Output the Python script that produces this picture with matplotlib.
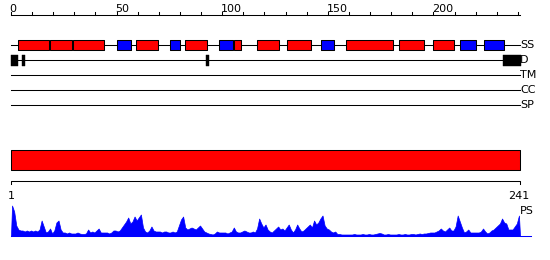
import numpy as np
from matplotlib import pyplot as plt

seq_len = 241

# secondary structure segments (start, end) in residue units
helix = [(3.5, 17.8), (18.6, 28.7), (29.5, 43.9), (59.3, 69.8), (82.5, 92.7),
         (105.7, 108.8), (116.6, 126.9), (130.8, 141.9), (158.8, 181.0),
         (183.9, 195.7), (200.0, 209.9)]
strand = [(50.3, 56.7), (75.4, 79.9), (98.6, 105.0), (146.8, 152.8),
          (212.6, 220.0), (224.1, 233.3)]
disorder = [(0.0, 3.5), (5.2, 6.5), (92.2, 93.8), (233.1, 241.5)]

track_names = ['SS', 'D', 'TM', 'CC', 'SP']
ruler_major = [0, 50, 100, 150, 200]
ruler_minor = list(range(0, 241, 10))

ps_profile = [
    30, 24, 10, 6, 5, 5, 4, 5, 4, 5,
    4, 5, 4, 6, 15, 9, 3, 4, 7, 2,
    5, 13, 15, 6, 3, 3, 2, 3, 2, 2,
    2, 3, 2, 1.5, 1.5, 2, 6, 3, 4, 3,
    5, 7, 3, 3, 3, 3, 2, 3, 5, 5,
    4, 5, 8, 11, 14, 18, 12, 14, 19, 15,
    18, 21, 8, 4, 3, 5, 9, 5, 4, 4,
    4, 3, 4, 4, 3, 3, 4, 3, 4, 10,
    16, 19, 8, 6, 7, 8, 7, 6, 8, 10,
    7, 4, 3, 2, 1.5, 1, 2, 4, 3, 3,
    3, 3, 2, 3, 4, 8, 4, 3, 3, 4,
    5, 4, 3, 3, 4, 3, 7, 17, 12, 8,
    11, 6, 4, 3, 5, 7, 9, 6, 7, 5,
    8, 11, 6, 3, 6, 11, 7, 4, 5, 7,
    9, 11, 8, 15, 11, 13, 17, 20, 10, 7,
    6, 4, 3, 4, 1.5, 1.5, 1, 1, 1, 1,
    1, 1, 1.5, 1, 1, 1, 1.5, 1, 1, 1.5,
    1, 1, 1.5, 2, 2.5, 2, 1, 1, 1.5, 1,
    1, 1, 1, 1.5, 1, 1, 1.5, 1, 1, 1.5,
    1.5, 1, 1.5, 2, 1.5, 2, 2, 2.5, 3, 3,
    3, 4, 5, 7, 5, 4, 6, 8, 5, 5,
    9, 20, 14, 8, 3, 4, 6, 3, 3, 3,
    3, 3, 4, 7, 4, 2, 3, 5, 6, 8,
    10, 12, 17, 13, 12, 6, 6, 6, 9, 12, 20,
]

RED = '#ff0000'
BLUE = '#0000ff'
px = 509 / seq_len  # pixels per residue
lw = 0.75

fig = plt.figure(figsize=(5.5, 2.6), dpi=100)
ax = fig.add_axes([0, 0, 1, 1])
ax.set_xlim(-11 / px, (550 - 11) / px)
ax.set_ylim(260, 0)
ax.axis('off')

# top ruler
ax.plot([0, seq_len], [15, 15], color='black', lw=lw)
for t in ruler_minor:
    ax.plot([t, t], [11.5, 15], color='black', lw=lw)
for t in ruler_major:
    ax.text(t - 0.6, 9, str(t), fontsize=8, ha='left', va='center')

# feature tracks
track_y = [45, 60, 75, 90, 105]
for name, y in zip(track_names, track_y):
    ax.plot([0, seq_len], [y, y], color='black', lw=lw, zorder=1)
    ax.text(seq_len, y, name, fontsize=8, ha='left', va='center')

ax.broken_barh([(s, e - s) for s, e in helix], (40, 10), facecolor=RED,
               edgecolor='black', lw=lw, zorder=2)
ax.broken_barh([(s, e - s) for s, e in strand], (40, 10), facecolor=BLUE,
               edgecolor='black', lw=lw, zorder=2)
ax.broken_barh([(s, e - s) for s, e in disorder], (55, 10.5), facecolor='black',
               edgecolor='black', lw=0.3, zorder=2)

# domain bar
ax.broken_barh([(0, seq_len)], (150, 20), facecolor=RED, edgecolor='black',
               lw=lw)

# lower ruler
ax.plot([0, 0, seq_len, seq_len], [184, 180.5, 180.5, 184], color='black', lw=lw)
ax.text(0, 196, '1', fontsize=8, ha='center', va='center')
ax.text(seq_len - 0.5, 196, str(seq_len), fontsize=8, ha='center', va='center')

# PS profile
base = 235.5
xs = np.arange(1, seq_len + 1) - 0.5
ys = base - np.array(ps_profile)
ax.fill_between(np.r_[0, xs, seq_len], np.r_[base, ys, base], base,
                color=BLUE, lw=0.5)
ax.plot([0, seq_len + 5], [base, base], color=BLUE, lw=lw)
ax.text(seq_len, 211, 'PS', fontsize=8, ha='left', va='center')

fig.savefig('out.png', dpi=100, facecolor='white')
